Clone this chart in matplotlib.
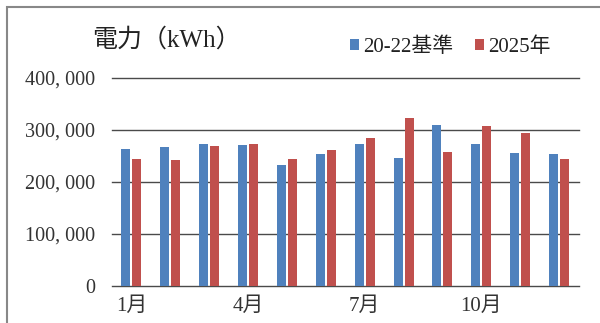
import matplotlib
matplotlib.use("Agg")
import matplotlib.pyplot as plt
from matplotlib.patches import Rectangle, Patch
import numpy as np

plt.rcParams['font.family'] = ['Liberation Serif', 'Noto Sans CJK JP']

months = ["1月", "2月", "3月", "4月", "5月", "6月",
          "7月", "8月", "9月", "10月", "11月", "12月"]
baseline_2022 = [263000, 268000, 274000, 271000, 233000, 253000,
                 273000, 247000, 310000, 273000, 256000, 254000]
actual_2025 = [245000, 243000, 270000, 273000, 245000, 262000,
               284000, 324000, 257000, 307000, 294000, 245000]
series_names = ["20-22基準", "2025年"]
y_ticks = [0, 100000, 200000, 300000, 400000]
shown_months = [0, 3, 6, 9]

blue = "#4F81BD"
red = "#C0504D"

W, H = 600, 323
fig = plt.figure(figsize=(W / 100, H / 100), dpi=100)
ax = fig.add_axes([112 / W, 37 / H, 466.5 / W, 208 / H])

x = np.arange(len(months))
bw = 0.232
off = 0.141
ax.bar(x - off, baseline_2022, bw, color=blue, linewidth=0, zorder=3)
ax.bar(x + off, actual_2025, bw, color=red, linewidth=0, zorder=3)

ax.set_xlim(-0.5, len(months) - 0.5)
ax.set_ylim(0, 400000)

for t in y_ticks:
    ax.axhline(t, color="#4a4a4a", lw=1.0, zorder=2, clip_on=False)

ax.set_yticks(y_ticks)
ax.set_yticklabels([f"{v:,}".replace(",", ", ") for v in y_ticks],
                   fontsize=14.5, color="#333333")
ax.set_xticks(shown_months)
ax.set_xticklabels([months[i] for i in shown_months], fontsize=15, color="#333333")
ax.tick_params(axis="y", length=0, pad=12)
ax.tick_params(axis="x", length=0, pad=8)
for s in ax.spines.values():
    s.set_visible(False)

fig.text(92 / W, 1 - 40 / H, "電力（kWh）", fontsize=18, color="#222222",
         ha="left", va="center")

handles = [Patch(facecolor=blue, edgecolor="none"),
           Patch(facecolor=red, edgecolor="none")]
fig.legend(handles, series_names, loc="center left",
           bbox_to_anchor=(350 / W, 1 - 47 / H), ncol=2, frameon=False,
           fontsize=15, handlelength=0.45, handleheight=0.45,
           handletextpad=0.2, columnspacing=1.0, borderaxespad=0,
           borderpad=0, labelcolor="#222222")

fig.patches.append(Rectangle((7 / W, -0.2), 2, 0.2 + 1 - 7 / H,
                             transform=fig.transFigure, fill=False,
                             edgecolor="#888888", lw=1.5))

fig.savefig("out.png", dpi=100)
